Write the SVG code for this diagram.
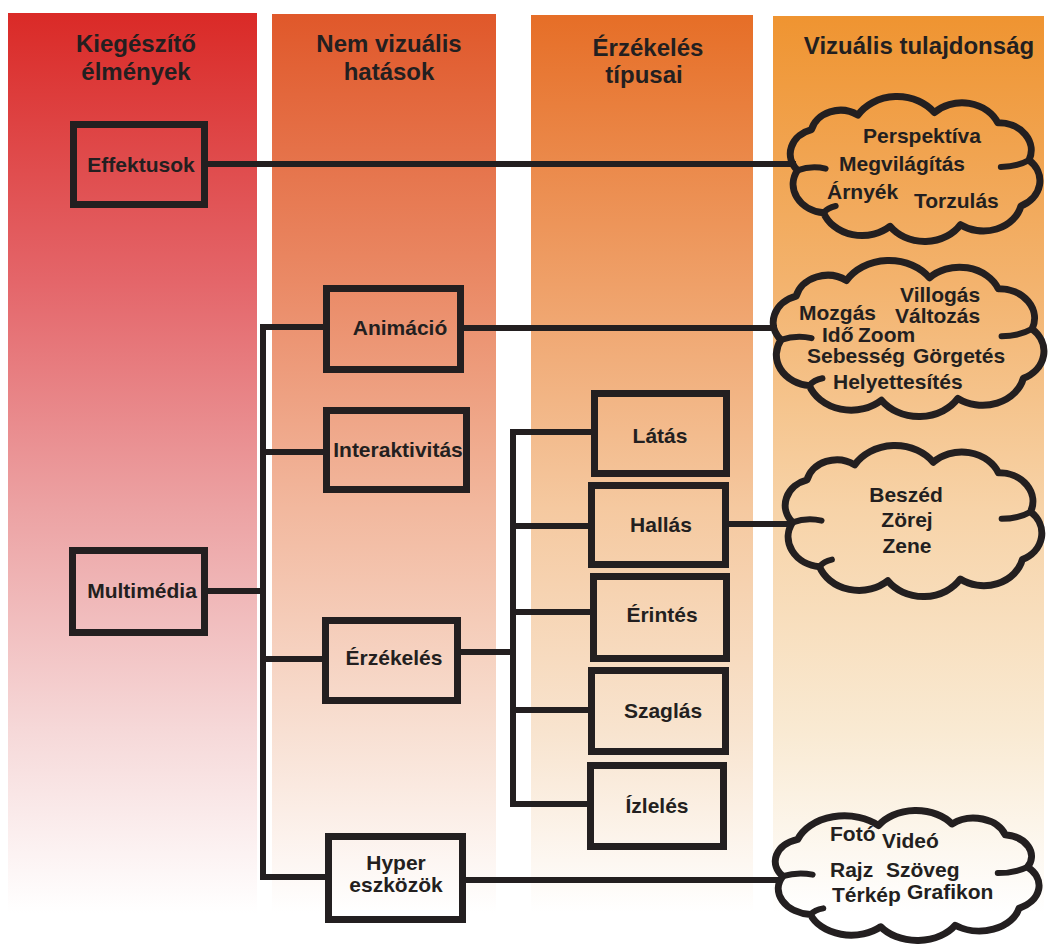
<svg xmlns="http://www.w3.org/2000/svg" xmlns:xlink="http://www.w3.org/1999/xlink" width="1048" height="946" viewBox="0 0 1048 946">
<style>
  .hdr { font-family: "Liberation Sans", Arial, sans-serif; font-weight: bold; font-size: 24px; fill: #231f20; text-anchor: middle; }
  .lbl { font-family: "Liberation Sans", Arial, sans-serif; font-weight: bold; font-size: 21px; fill: #231f20; text-anchor: middle; }
  .cl { font-family: "Liberation Sans", Arial, sans-serif; font-weight: bold; font-size: 21px; fill: #231f20; }
  .box { fill: none; stroke: #231f20; stroke-width: 7; }
  .conn { fill: none; stroke: #231f20; stroke-width: 6; stroke-linejoin: miter; }
  .cloudline { fill: none; stroke: #231f20; stroke-width: 7; stroke-linejoin: round; }
  .hook { fill: none; stroke: #231f20; stroke-width: 6; stroke-linecap: round; }
</style>
<defs>
  <linearGradient id="g1" x1="0" y1="0" x2="0" y2="1">
    <stop offset="0" stop-color="#da2a27"/>
    <stop offset="0.3" stop-color="#e4666a"/>
    <stop offset="0.55" stop-color="#eca2a3"/>
    <stop offset="0.8" stop-color="#f6d9d9"/>
    <stop offset="1" stop-color="#ffffff"/>
  </linearGradient>
  <linearGradient id="g2" x1="0" y1="0" x2="0" y2="1">
    <stop offset="0" stop-color="#e0582a"/>
    <stop offset="0.3" stop-color="#ea8a66"/>
    <stop offset="0.55" stop-color="#f2b89e"/>
    <stop offset="0.8" stop-color="#f8e0d3"/>
    <stop offset="1" stop-color="#ffffff"/>
  </linearGradient>
  <linearGradient id="g3" x1="0" y1="0" x2="0" y2="1">
    <stop offset="0" stop-color="#e66e27"/>
    <stop offset="0.3" stop-color="#efa068"/>
    <stop offset="0.55" stop-color="#f5c9a0"/>
    <stop offset="0.8" stop-color="#f8e4cf"/>
    <stop offset="1" stop-color="#ffffff"/>
  </linearGradient>
  <linearGradient id="g4" x1="0" y1="0" x2="0" y2="1">
    <stop offset="0" stop-color="#ef9431"/>
    <stop offset="0.3" stop-color="#f3b36e"/>
    <stop offset="0.55" stop-color="#f7d3a8"/>
    <stop offset="0.8" stop-color="#f9ead3"/>
    <stop offset="1" stop-color="#ffffff"/>
  </linearGradient>
  <g id="cloud">
    <path class="cloudline" vector-effect="non-scaling-stroke"
          d="M16,80 A30,30 0 0 1 30,32 A29.4,29.4 0 0 1 76,15 A45.7,45.7 0 0 1 152,12 A38.5,38.5 0 0 1 215,24 A32.3,32.3 0 0 1 246,68 A32.8,32.8 0 0 1 238,122 A38.3,38.3 0 0 1 178,144 A42,42 0 0 1 108,146 A40.7,40.7 0 0 1 42,130 A33.8,33.8 0 0 1 16,80 Z"/>
    <path class="hook" vector-effect="non-scaling-stroke" d="M16,80 q14,-6 28,-2 M246,68 q-12,8 -28,8 M42,130 q4,-6 12,-8"/>
  </g>
  <g id="cloudB">
    <path class="cloudline" vector-effect="non-scaling-stroke"
          d="M16,80 A30,30 0 0 1 30,32 A46.9,46.9 0 0 1 106,14 A41.4,41.4 0 0 1 175,12 A31.1,31.1 0 0 1 225,26 A28.2,28.2 0 0 1 246,68 A32.8,32.8 0 0 1 238,122 A38.3,38.3 0 0 1 178,144 A42,42 0 0 1 108,146 A40.7,40.7 0 0 1 42,130 A33.8,33.8 0 0 1 16,80 Z"/>
    <path class="hook" vector-effect="non-scaling-stroke" d="M16,80 q14,-6 28,-2 M246,68 q-12,8 -28,8 M42,130 q4,-6 12,-8"/>
  </g>
</defs>

<g id="columns">
  <rect x="8" y="13" width="249" height="900" fill="url(#g1)"/>
  <rect x="272" y="14" width="224" height="899" fill="url(#g2)"/>
  <rect x="531" y="15" width="222" height="898" fill="url(#g3)"/>
  <rect x="773" y="16" width="271" height="897" fill="url(#g4)"/>
</g>

<g id="headers">
  <text class="hdr" x="136" y="52">Kiegészítő</text>
  <text class="hdr" x="136" y="80">élmények</text>
  <text class="hdr" x="389" y="52">Nem vizuális</text>
  <text class="hdr" x="389" y="80">hatások</text>
  <text class="hdr" x="648" y="56">Érzékelés</text>
  <text class="hdr" x="644" y="83">típusai</text>
  <text class="hdr" x="919" y="54">Vizuális tulajdonság</text>
</g>

<g id="connectors">
  <path class="conn" d="M208,164 H796"/>
  <path class="conn" d="M323,327 H263 V877 H325"/>
  <path class="conn" d="M263,452 H323"/>
  <path class="conn" d="M208,591 H263"/>
  <path class="conn" d="M263,659 H322"/>
  <path class="conn" d="M464,328 H777"/>
  <path class="conn" d="M461,652 H513"/>
  <path class="conn" d="M591,432 H513 V804 H587"/>
  <path class="conn" d="M513,526 H588"/>
  <path class="conn" d="M513,612 H590"/>
  <path class="conn" d="M513,710 H588"/>
  <path class="conn" d="M729,524 H792"/>
  <path class="conn" d="M466,880 H782"/>
</g>

<g id="effektusok">
  <rect class="box" x="73.5" y="124.5" width="131" height="80"/>
  <text class="lbl" x="141" y="172">Effektusok</text>
</g>
<g id="multimedia">
  <rect class="box" x="72.5" y="550.5" width="132" height="82"/>
  <text class="lbl" x="142" y="598">Multimédia</text>
</g>
<g id="animacio">
  <rect class="box" x="326.5" y="288.5" width="134" height="81"/>
  <text class="lbl" x="400" y="335">Animáció</text>
</g>
<g id="interaktivitas">
  <rect class="box" x="326.5" y="410.5" width="140" height="79"/>
  <text class="lbl" x="398" y="457">Interaktivitás</text>
</g>
<g id="erzekeles">
  <rect class="box" x="325.5" y="620.5" width="132" height="80"/>
  <text class="lbl" x="394" y="665">Érzékelés</text>
</g>
<g id="hyper">
  <rect class="box" x="328.5" y="836.5" width="134" height="83"/>
  <text class="lbl" x="396" y="870">Hyper</text>
  <text class="lbl" x="396" y="892">eszközök</text>
</g>
<g id="latas">
  <rect class="box" x="594.5" y="393.5" width="132" height="80"/>
  <text class="lbl" x="660" y="443">Látás</text>
</g>
<g id="hallas">
  <rect class="box" x="591.5" y="485.5" width="134" height="79"/>
  <text class="lbl" x="661" y="532">Hallás</text>
</g>
<g id="erintes">
  <rect class="box" x="593.5" y="576.5" width="133" height="82"/>
  <text class="lbl" x="662" y="622">Érintés</text>
</g>
<g id="szaglas">
  <rect class="box" x="591.5" y="670.5" width="134" height="81"/>
  <text class="lbl" x="663" y="718">Szaglás</text>
</g>
<g id="izleles">
  <rect class="box" x="590.5" y="765.5" width="133" height="81"/>
  <text class="lbl" x="657" y="813">Ízlelés</text>
</g>

<g id="cloud1">
  <use xlink:href="#cloud" href="#cloud" transform="translate(781.3,102.4) scale(1.007,0.849)"/>
  <text class="lbl" x="922" y="143">Perspektíva</text>
  <text class="cl" x="839" y="171">Megvilágítás</text>
  <text class="cl" x="827" y="199">Árnyék</text>
  <text class="cl" x="914" y="208">Torzulás</text>
</g>
<g id="cloud2">
  <use xlink:href="#cloud" href="#cloud" transform="translate(763.5,266.8) scale(1.092,0.914)"/>
  <text class="cl" x="900" y="302">Villogás</text>
  <text class="cl" x="799" y="320">Mozgás</text>
  <text class="cl" x="895" y="323">Változás</text>
  <text class="cl" x="822" y="342">Idő</text>
  <text class="cl" x="858" y="342">Zoom</text>
  <text class="cl" x="807" y="363">Sebesség</text>
  <text class="cl" x="913" y="363">Görgetés</text>
  <text class="cl" x="833" y="389">Helyettesítés</text>
</g>
<g id="cloud3">
  <use xlink:href="#cloud" href="#cloud" transform="translate(776,451.6) scale(1.035,0.885)"/>
  <text class="lbl" x="906" y="502">Beszéd</text>
  <text class="lbl" x="907" y="527">Zörej</text>
  <text class="lbl" x="907" y="553">Zene</text>
</g>
<g id="cloud4">
  <use xlink:href="#cloudB" href="#cloudB" transform="translate(765.8,814.8) scale(1.064,0.767)"/>
  <text class="cl" x="830" y="841">Fotó</text>
  <text class="cl" x="882" y="848">Videó</text>
  <text class="cl" x="830" y="877">Rajz</text>
  <text class="cl" x="886" y="877">Szöveg</text>
  <text class="cl" x="832" y="902">Térkép</text>
  <text class="cl" x="907" y="899">Grafikon</text>
</g>
</svg>
